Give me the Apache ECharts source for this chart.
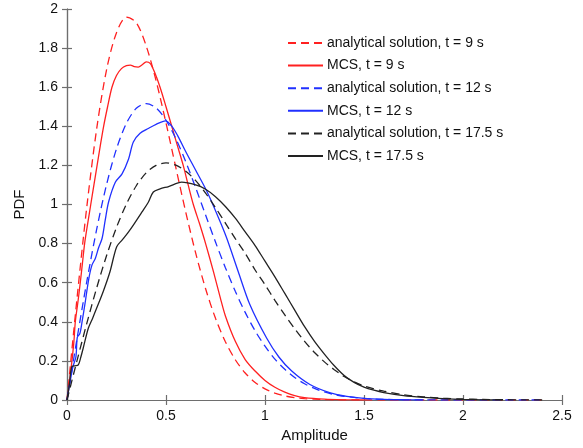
<!DOCTYPE html>
<html>
<head>
<meta charset="utf-8">
<script src="https://cdn.jsdelivr.net/npm/echarts@6/dist/echarts.min.js"></script>
<style>
html,body{margin:0;padding:0;background:#fff;}
#chart{width:583px;height:448px;}
</style>
</head>
<body>
<div id="chart"></div>
<script>
// Amplitude grid for the analytical curves
var ampGrid = [0,0.05,0.1,0.15,0.2,0.25,0.3,0.35,0.4,0.45,0.5,0.55,0.6,0.65,0.7,0.75,0.8,0.85,0.9,0.95,1.0,1.05,1.1,1.15,1.2,1.25,1.3,1.35,1.4,1.45,1.5,1.6,1.7,1.8,1.9,2.0,2.1,2.2,2.3,2.4];
var analytical9 = [0,0.514,0.988,1.388,1.690,1.879,1.958,1.930,1.811,1.633,1.417,1.187,0.960,0.751,0.569,0.418,0.298,0.206,0.138,0.090,0.057,0.035,0.021,0.012,0.007,0.004,0.002,0.001,0.0005,0.0002,0.0001,0,0,0,0,0,0,0,0,0];
var analytical12 = [0,0.310,0.606,0.874,1.103,1.285,1.415,1.492,1.516,1.494,1.431,1.336,1.218,1.085,0.946,0.808,0.677,0.556,0.448,0.354,0.275,0.209,0.157,0.115,0.083,0.059,0.041,0.028,0.019,0.013,0.008,0.0034,0.0013,0.0004,0.0001,0,0,0,0,0];
var analytical175 = [0,0.199,0.392,0.574,0.739,0.883,1.002,1.096,1.162,1.200,1.213,1.201,1.170,1.122,1.058,0.984,0.905,0.825,0.750,0.665,0.590,0.510,0.435,0.365,0.300,0.243,0.195,0.155,0.120,0.093,0.072,0.045,0.027,0.016,0.009,0.005,0.003,0.0015,0.0005,0];

// MCS curves: amplitude and PDF
var mcs9Amp = [0,0.01,0.02,0.025,0.035,0.042,0.055,0.067,0.078,0.089,0.104,0.12,0.136,0.152,0.168,0.185,0.205,0.227,0.25,0.275,0.3,0.32,0.34,0.36,0.38,0.4,0.42,0.445,0.47,0.5,0.529,0.558,0.587,0.612,0.638,0.67,0.7,0.74,0.775,0.8,0.85,0.9,0.95,1.0,1.05,1.1,1.15,1.2,1.3,1.4,1.5];
var mcs9Pdf = [0,0.07,0.16,0.2,0.3,0.4,0.5,0.6,0.7,0.8,0.9,1.0,1.1,1.2,1.3,1.4,1.5,1.6,1.66,1.695,1.71,1.713,1.705,1.703,1.715,1.73,1.722,1.67,1.6,1.5,1.4,1.3,1.2,1.1,1.0,0.9,0.8,0.655,0.52,0.43,0.3,0.207,0.148,0.1,0.065,0.04,0.022,0.012,0.004,0.001,0];

var mcs12Amp = [0,0.015,0.03,0.045,0.052,0.065,0.076,0.092,0.11,0.126,0.143,0.16,0.177,0.193,0.21,0.244,0.278,0.311,0.335,0.369,0.413,0.45,0.497,0.53,0.56,0.6,0.65,0.705,0.764,0.806,0.865,0.924,1.008,1.07,1.135,1.227,1.33,1.413,1.5,1.6,1.7,1.8];
var mcs12Pdf = [0,0.09,0.17,0.22,0.32,0.34,0.4,0.5,0.62,0.69,0.724,0.78,0.826,0.92,1.013,1.114,1.157,1.233,1.32,1.365,1.39,1.41,1.428,1.40,1.35,1.27,1.175,1.07,0.935,0.83,0.656,0.487,0.317,0.22,0.148,0.079,0.036,0.018,0.008,0.003,0.001,0];

var mcs175Amp = [0,0.012,0.024,0.04,0.057,0.07,0.082,0.108,0.13,0.15,0.183,0.217,0.251,0.28,0.311,0.345,0.379,0.41,0.436,0.47,0.513,0.579,0.65,0.7,0.75,0.8,0.85,0.9,0.95,1.0,1.05,1.1,1.15,1.2,1.25,1.3,1.35,1.4,1.45,1.5,1.55,1.6,1.7,1.8,1.9,2.0,2.1,2.2];
var mcs175Pdf = [0,0.08,0.17,0.175,0.18,0.22,0.266,0.368,0.42,0.47,0.555,0.656,0.784,0.82,0.86,0.91,0.962,1.01,1.064,1.08,1.092,1.114,1.1,1.078,1.04,0.99,0.93,0.86,0.79,0.71,0.63,0.545,0.46,0.375,0.3,0.235,0.175,0.125,0.09,0.066,0.05,0.038,0.022,0.013,0.007,0.003,0.001,0];

var seriesNames = ['analytical solution, t = 9 s','MCS, t = 9 s','analytical solution, t = 12 s','MCS, t = 12 s','analytical solution, t = 17.5 s','MCS, t = 17.5 s'];
var xTicks = ['0','0.5','1','1.5','2','2.5'];

function zip(xs, ys){ var out=[]; for(var i=0;i<xs.length;i++){ out.push([xs[i], ys[i]]); } return out; }

var FONT = 'Liberation Sans, Arial, Helvetica, sans-serif';
function mkSeries(name, data, color, dashed){
  return {
    name: name, type: 'line', data: data, symbol: 'none', showSymbol: false,
    smooth: 0.3, clip: true,
    lineStyle: { color: color, width: 1.3, type: dashed ? [8,5] : 'solid' },
    itemStyle: { color: color },
    emphasis: { disabled: true }
  };
}

var chart = echarts.init(document.getElementById('chart'), null, {renderer:'canvas'});
var axisLineStyle = { color: '#6e6e6e', width: 1.2 };
chart.setOption({
  animation: false,
  backgroundColor: '#ffffff',
  textStyle: { fontFamily: FONT },
  grid: { left: 67, right: 21, top: 9, bottom: 46 },
  legend: {
    orient: 'vertical', left: 282, top: 31,
    itemWidth: 35, itemHeight: 14, itemGap: 8.6,
    itemStyle: { opacity: 0 },
    textStyle: { fontSize: 14, color: '#111', fontFamily: FONT, padding: [0,0,0,-1] },
    data: seriesNames
  },
  xAxis: [{
    type: 'value', min: 0, max: 2.5, interval: 0.5,
    name: 'Amplitude', nameLocation: 'middle', nameGap: 28,
    nameTextStyle: { fontSize: 15, color: '#111', fontFamily: FONT },
    axisLine: { show: true, lineStyle: axisLineStyle },
    axisTick: { show: true, inside: true, length: 5, lineStyle: axisLineStyle },
    axisLabel: { fontSize: 14, color: '#111', margin: 9, fontFamily: FONT,
      formatter: function(v){ var i = Math.round(v/0.5); return xTicks[i] !== undefined ? xTicks[i] : ''; } },
    splitLine: { show: false }
  },{
    type: 'value', position: 'top', min: 0, max: 2.5, interval: 0.5,
    axisLine: { show: true, lineStyle: axisLineStyle },
    axisTick: { show: true, inside: true, length: 5, lineStyle: axisLineStyle },
    axisLabel: { show: false }, splitLine: { show: false }
  }],
  yAxis: [{
    type: 'value', min: 0, max: 2, interval: 0.2,
    name: 'PDF', nameLocation: 'middle', nameGap: 38, nameRotate: 90,
    nameTextStyle: { fontSize: 15, color: '#111', fontFamily: FONT },
    axisLine: { show: true, lineStyle: axisLineStyle },
    axisTick: { show: true, inside: true, length: 5, lineStyle: axisLineStyle },
    axisLabel: { fontSize: 14, color: '#111', margin: 9, fontFamily: FONT,
      formatter: function(v){ return String(Math.round(v*10)/10); } },
    splitLine: { show: false }
  },{
    type: 'value', position: 'right', min: 0, max: 2, interval: 0.2,
    axisLine: { show: true, lineStyle: axisLineStyle },
    axisTick: { show: true, inside: true, length: 5, lineStyle: axisLineStyle },
    axisLabel: { show: false }, splitLine: { show: false }
  }],
  series: [
    mkSeries(seriesNames[0], zip(ampGrid, analytical9), '#ff2020', true),
    mkSeries(seriesNames[1], zip(mcs9Amp, mcs9Pdf), '#ff2020', false),
    mkSeries(seriesNames[2], zip(ampGrid, analytical12), '#2030ff', true),
    mkSeries(seriesNames[3], zip(mcs12Amp, mcs12Pdf), '#2030ff', false),
    mkSeries(seriesNames[4], zip(ampGrid, analytical175), '#222222', true),
    mkSeries(seriesNames[5], zip(mcs175Amp, mcs175Pdf), '#222222', false)
  ]
});
</script>
</body>
</html>
